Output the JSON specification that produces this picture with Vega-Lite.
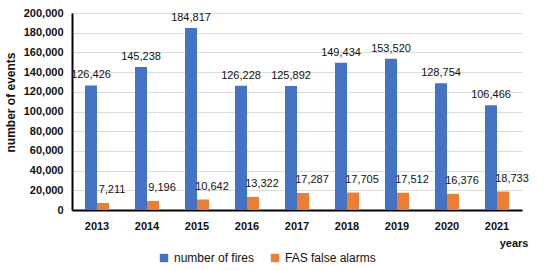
{
  "$schema": "https://vega.github.io/schema/vega-lite/v6.json",
  "autosize": {"type": "none"},
  "width": 450,
  "height": 197,
  "padding": {"left": 72, "top": 13, "right": 28, "bottom": 60},
  "background": "white",
  "config": {
    "view": {"stroke": null},
    "font": "Liberation Sans"
  },
  "data": {
    "values": [
      {"year": "2013", "series": "number of fires", "value": 126426},
      {"year": "2014", "series": "number of fires", "value": 145238},
      {"year": "2015", "series": "number of fires", "value": 184817},
      {"year": "2016", "series": "number of fires", "value": 126228},
      {"year": "2017", "series": "number of fires", "value": 125892},
      {"year": "2018", "series": "number of fires", "value": 149434},
      {"year": "2019", "series": "number of fires", "value": 153520},
      {"year": "2020", "series": "number of fires", "value": 128754},
      {"year": "2021", "series": "number of fires", "value": 106466},
      {"year": "2013", "series": "FAS false alarms", "value": 7211},
      {"year": "2014", "series": "FAS false alarms", "value": 9196},
      {"year": "2015", "series": "FAS false alarms", "value": 10642},
      {"year": "2016", "series": "FAS false alarms", "value": 13322},
      {"year": "2017", "series": "FAS false alarms", "value": 17287},
      {"year": "2018", "series": "FAS false alarms", "value": 17705},
      {"year": "2019", "series": "FAS false alarms", "value": 17512},
      {"year": "2020", "series": "FAS false alarms", "value": 16376},
      {"year": "2021", "series": "FAS false alarms", "value": 18733}
    ]
  },
  "encoding": {
    "x": {
      "field": "year", "type": "nominal",
      "scale": {"paddingInner": 0.52, "paddingOuter": 0.26},
      "axis": {
        "title": "years", "titleX": 456, "titleAlign": "right", "titleAnchor": "end", "titleFontWeight": "bold", "titleFontSize": 11, "titleColor": "#111", "titlePadding": 6,
        "labelAngle": 0, "labelFontWeight": "bold", "labelFontSize": 11, "labelColor": "#111", "labelPadding": 10,
        "ticks": false, "domainColor": "#000", "domainWidth": 2, "grid": false
      }
    },
    "xOffset": {"field": "series", "type": "nominal", "scale": {"domain": ["number of fires", "FAS false alarms"]}},
    "y": {
      "field": "value", "type": "quantitative",
      "scale": {"domain": [0, 200000]},
      "axis": {
        "title": "number of events", "titleFontWeight": "bold", "titleFontSize": 12, "titleColor": "#111", "titleX": -62, "titleY": 89, "titleBaseline": "middle", "titleAlign": "center",
        "format": ",.0f", "values": [0, 20000, 40000, 60000, 80000, 100000, 120000, 140000, 160000, 180000, 200000],
        "labelFontWeight": "bold", "labelFontSize": 11, "labelColor": "#111", "labelPadding": 9,
        "ticks": false, "domainColor": "#000", "domainWidth": 2,
        "gridColor": "#dcdcdc", "gridWidth": 1
      }
    }
  },
  "layer": [
    {
      "mark": {"type": "bar"},
      "encoding": {
        "color": {
          "field": "series", "type": "nominal",
          "scale": {"domain": ["number of fires", "FAS false alarms"], "range": ["#4472C4", "#ED7D31"]},
          "legend": {
            "title": null, "orient": "none", "direction": "horizontal", "legendX": 86, "legendY": 239,
            "symbolType": "square", "symbolSize": 70, "symbolStrokeWidth": 0,
            "labelFontSize": 12, "labelColor": "#111", "columnPadding": 14
          }
        }
      }
    },
    {
      "transform": [{"filter": "datum.series === 'number of fires'"}],
      "mark": {"type": "text", "dy": -10, "fontSize": 11, "color": "#111", "baseline": "middle"},
      "encoding": {"text": {"field": "value", "type": "quantitative", "format": ","}}
    },
    {
      "transform": [{"filter": "datum.series === 'FAS false alarms'"}],
      "mark": {"type": "text", "dy": -13, "dx": 9, "fontSize": 11, "color": "#111", "baseline": "middle"},
      "encoding": {"text": {"field": "value", "type": "quantitative", "format": ","}}
    }
  ]
}
